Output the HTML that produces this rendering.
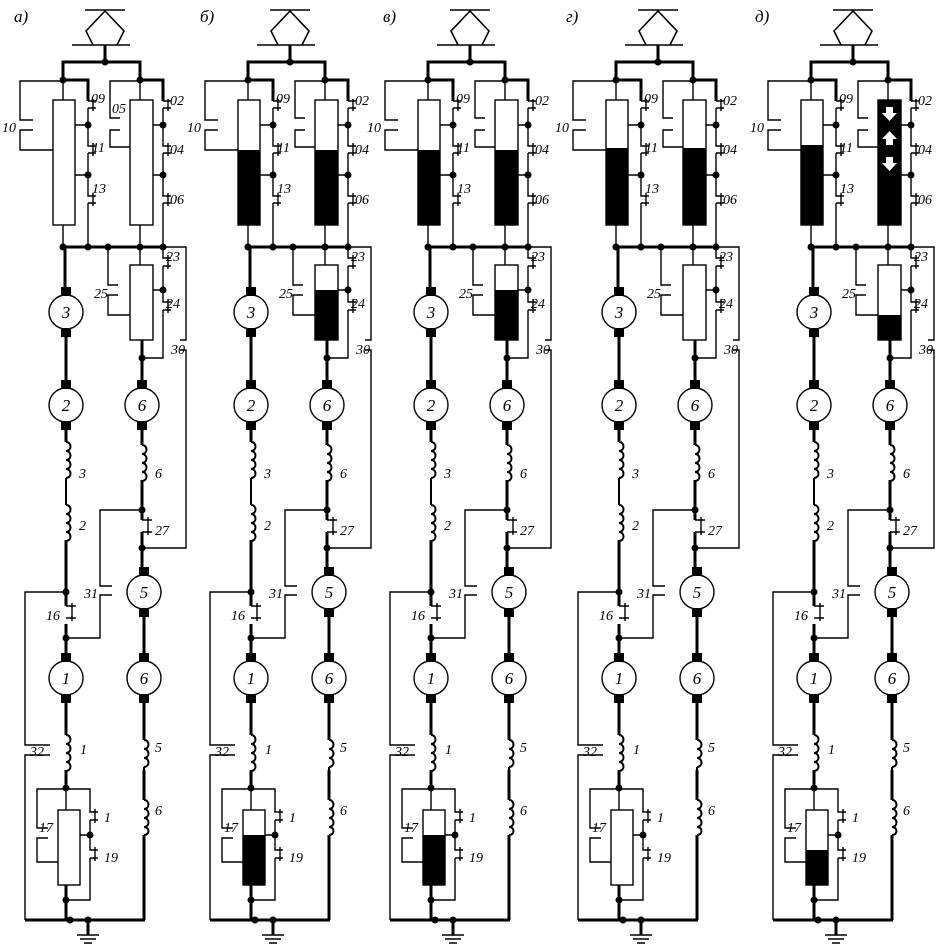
<!DOCTYPE html>
<html><head><meta charset="utf-8"><style>
html,body{margin:0;padding:0;background:#fff}
svg{display:block}
text{font-family:"Liberation Serif",serif;font-style:italic;font-size:14px;fill:#000}
.m{font-size:17px;text-anchor:middle}
</style></head><body>
<svg width="949" height="951" viewBox="0 0 949 951" xmlns="http://www.w3.org/2000/svg">
<defs>
<g id="p" fill="none" stroke="#000">
 <g stroke-width="1.6">
  <path d="M85,10H125M105,11L86,31L93,45H117L124,31Z M72,45H130"/>
 </g>
 <g stroke-width="3">
  <path d="M105,45V62 M63,80V62H140V80 M63,80H88V101 M140,80H163V101"/>
  <path d="M63,247H165 M65,247V295 M66,329V388 M66,422V442 M66,540V606 M66,624V660 M66,696V735 M66,770V788"/>
  <path d="M142,340V388 M142,422V445 M142,480V520 M142,532V575 M144,610V660 M144,696V740 M144,770V800 M144,835V920"/>
  <path d="M25,920H145 M66,885V920 M88,920V935"/>
 </g>
 <g stroke-width="2">
  <path d="M66,478V505 M144,767V800"/>
 </g>
 <g stroke-width="1.4">
  <rect x="53" y="100" width="22" height="125" fill="#fff"/>
  <rect x="130" y="100" width="23" height="125" fill="#fff"/>
  <rect x="130" y="265" width="23" height="75" fill="#fff"/>
  <rect x="58" y="810" width="22" height="75" fill="#fff"/>
  <path d="M63,80V100 M63,225V247 M140,80V100 M140,225V247 M140,247V265 M66,788V810"/>
  <path d="M88,101H96 M88,108H96 M88,108V146H96 M88,153H96 M88,153V196H96 M88,203H96 M88,203V247 M75,125H88 M75,175H88 M93,99V111 M93,143V156 M93,193V206"/>
  <path d="M163,101H171 M163,108H171 M163,108V146H171 M163,153H171 M163,153V196H171 M163,203H171 M163,203V247 M153,125H163 M153,175H163 M168,99V111 M168,143V156 M168,193V206"/>
  <path d="M63,81H20V120H33 M33,130H20V150H53"/>
  <path d="M140,81H110V118H120 M120,130H110V147H130"/>
  <path d="M163,247V258H171 M163,266H171 M163,266V302H171 M163,310H171 M163,310V358H142 M153,290H163 M168,255V269 M168,299V313"/>
  <path d="M108,247V285H118 M118,295H108V315H130"/>
  <path d="M165,247H186V340H180 M180,350H186V548H142"/>
  <path d="M142,520H152 M142,532H152 M148,517V535"/>
  <path d="M142,510H100V586H112 M112,595H100V638H66"/>
  <path d="M66,606H76 M66,618H76 M72,603V621"/>
  <path d="M66,592H25V745H50 M50,755H25V920"/>
  <path d="M66,789H90V812H98 M90,820H98 M90,820V850H98 M90,858H98 M90,858V900H66 M80,835H90 M95,809V823 M95,847V861"/>
  <path d="M66,789H37V828H48 M48,838H37V862H58"/>
  <path d="M77,935H99 M80,939H96 M84,943H92" stroke-width="1.6"/>
  <circle cx="66" cy="312" r="17" fill="#fff"/>
  <circle cx="66" cy="405" r="17" fill="#fff"/>
  <circle cx="66" cy="678" r="17" fill="#fff"/>
  <circle cx="142" cy="405" r="17" fill="#fff"/>
  <circle cx="144" cy="592" r="17" fill="#fff"/>
  <circle cx="144" cy="678" r="17" fill="#fff"/>
  <path d="M66,442c6,0 6,9 0,9c6,0 6,9 0,9c6,0 6,9 0,9c6,0 6,9 0,9 M66,505c6,0 6,9 0,9c6,0 6,9 0,9c6,0 6,9 0,9c6,0 6,9 0,9 M66,735c6,0 6,9 0,9c6,0 6,9 0,9c6,0 6,9 0,9c6,0 6,9 0,9 M142,445c6,0 6,9 0,9c6,0 6,9 0,9c6,0 6,9 0,9c6,0 6,9 0,9 M144,740c6,0 6,9 0,9c6,0 6,9 0,9c6,0 6,9 0,9 M144,800c6,0 6,9 0,9c6,0 6,9 0,9c6,0 6,9 0,9c6,0 6,8 0,8" stroke-width="2"/>
 </g>
 <g fill="#000" stroke="none">
  <rect x="61" y="287" width="10" height="9"/><rect x="61" y="328" width="10" height="9"/>
  <rect x="61" y="380" width="10" height="9"/><rect x="61" y="421" width="10" height="9"/>
  <rect x="61" y="653" width="10" height="9"/><rect x="61" y="694" width="10" height="9"/>
  <rect x="137" y="380" width="10" height="9"/><rect x="137" y="421" width="10" height="9"/>
  <rect x="139" y="567" width="10" height="9"/><rect x="139" y="608" width="10" height="9"/>
  <rect x="139" y="653" width="10" height="9"/><rect x="139" y="694" width="10" height="9"/>
  <circle cx="105" cy="62" r="3.5"/><circle cx="63" cy="80" r="3.5"/><circle cx="140" cy="80" r="3.5"/>
  <circle cx="88" cy="125" r="3.5"/><circle cx="88" cy="175" r="3.5"/><circle cx="163" cy="125" r="3.5"/><circle cx="163" cy="175" r="3.5"/>
  <circle cx="63" cy="247" r="3.5"/><circle cx="88" cy="247" r="3.5"/><circle cx="108" cy="247" r="3.5"/><circle cx="140" cy="247" r="3.5"/><circle cx="163" cy="247" r="3.5"/>
  <circle cx="163" cy="290" r="3.5"/><circle cx="142" cy="358" r="3.5"/><circle cx="142" cy="510" r="3.5"/><circle cx="142" cy="548" r="3.5"/>
  <circle cx="66" cy="592" r="3.5"/><circle cx="66" cy="638" r="3.5"/><circle cx="66" cy="788" r="3.5"/><circle cx="90" cy="835" r="3.5"/>
  <circle cx="66" cy="900" r="3.5"/><circle cx="70" cy="920" r="3.5"/><circle cx="88" cy="920" r="3.5"/>
 </g>
</g>
</defs>

<use href="#p" x="0"/>
<use href="#p" x="185"/>
<use href="#p" x="365"/>
<use href="#p" x="553"/>
<use href="#p" x="748"/>

<g fill="#000">
 <rect x="238" y="150" width="22" height="75"/><rect x="315" y="150" width="23" height="75"/><rect x="315" y="290" width="23" height="50"/><rect x="243" y="835" width="22" height="50"/>
 <rect x="418" y="150" width="22" height="75"/><rect x="495" y="150" width="23" height="75"/><rect x="495" y="290" width="23" height="50"/><rect x="423" y="835" width="22" height="50"/>
 <rect x="606" y="148" width="22" height="77"/><rect x="683" y="148" width="23" height="77"/>
 <rect x="801" y="145" width="22" height="80"/><rect x="878" y="100" width="23" height="125"/><rect x="878" y="315" width="23" height="25"/><rect x="806" y="850" width="22" height="35"/>
</g>
<g fill="#fff">
 <path d="M886,107h7v6h4l-7.5,8l-7.5,-8h4z"/>
 <path d="M886,145h7v-6h4l-7.5,-8l-7.5,8h4z"/>
 <path d="M886,157h7v6h4l-7.5,8l-7.5,-8h4z"/>
</g>

<text x="14" y="22" style="font-size:17px">а)</text>
<text x="200" y="22" style="font-size:17px">б)</text>
<text x="383" y="22" style="font-size:17px">в)</text>
<text x="566" y="22" style="font-size:17px">г)</text>
<text x="755" y="22" style="font-size:17px">д)</text>

<g>
<text x="91" y="103">09</text><text x="92" y="152">11</text><text x="92" y="193">13</text><text x="2" y="132">10</text><text x="112" y="113">05</text>
<text x="170" y="105">02</text><text x="170" y="154">04</text><text x="170" y="204">06</text><text x="166" y="261">23</text><text x="166" y="308">24</text><text x="94" y="298">25</text><text x="171" y="354">30</text>
<text x="79" y="478">3</text><text x="155" y="478">6</text><text x="79" y="530">2</text><text x="155" y="535">27</text><text x="84" y="598">31</text><text x="46" y="620">16</text><text x="30" y="756">32</text><text x="80" y="754">1</text><text x="155" y="752">5</text><text x="155" y="815">6</text><text x="104" y="822">1</text><text x="104" y="862">19</text><text x="39" y="832">17</text>
<text class="m" x="66" y="318">3</text><text class="m" x="66" y="411">2</text><text class="m" x="66" y="684">1</text><text class="m" x="142" y="411">6</text><text class="m" x="144" y="598">5</text><text class="m" x="144" y="684">6</text>
</g>
<g transform="translate(185,0)">
<text x="91" y="103">09</text><text x="92" y="152">11</text><text x="92" y="193">13</text><text x="2" y="132">10</text>
<text x="170" y="105">02</text><text x="170" y="154">04</text><text x="170" y="204">06</text><text x="166" y="261">23</text><text x="166" y="308">24</text><text x="94" y="298">25</text><text x="171" y="354">30</text>
<text x="79" y="478">3</text><text x="155" y="478">6</text><text x="79" y="530">2</text><text x="155" y="535">27</text><text x="84" y="598">31</text><text x="46" y="620">16</text><text x="30" y="756">32</text><text x="80" y="754">1</text><text x="155" y="752">5</text><text x="155" y="815">6</text><text x="104" y="822">1</text><text x="104" y="862">19</text><text x="39" y="832">17</text>
<text class="m" x="66" y="318">3</text><text class="m" x="66" y="411">2</text><text class="m" x="66" y="684">1</text><text class="m" x="142" y="411">6</text><text class="m" x="144" y="598">5</text><text class="m" x="144" y="684">6</text>
</g>
<g transform="translate(365,0)">
<text x="91" y="103">09</text><text x="92" y="152">11</text><text x="92" y="193">13</text><text x="2" y="132">10</text>
<text x="170" y="105">02</text><text x="170" y="154">04</text><text x="170" y="204">06</text><text x="166" y="261">23</text><text x="166" y="308">24</text><text x="94" y="298">25</text><text x="171" y="354">30</text>
<text x="79" y="478">3</text><text x="155" y="478">6</text><text x="79" y="530">2</text><text x="155" y="535">27</text><text x="84" y="598">31</text><text x="46" y="620">16</text><text x="30" y="756">32</text><text x="80" y="754">1</text><text x="155" y="752">5</text><text x="155" y="815">6</text><text x="104" y="822">1</text><text x="104" y="862">19</text><text x="39" y="832">17</text>
<text class="m" x="66" y="318">3</text><text class="m" x="66" y="411">2</text><text class="m" x="66" y="684">1</text><text class="m" x="142" y="411">6</text><text class="m" x="144" y="598">5</text><text class="m" x="144" y="684">6</text>
</g>
<g transform="translate(553,0)">
<text x="91" y="103">09</text><text x="92" y="152">11</text><text x="92" y="193">13</text><text x="2" y="132">10</text>
<text x="170" y="105">02</text><text x="170" y="154">04</text><text x="170" y="204">06</text><text x="166" y="261">23</text><text x="166" y="308">24</text><text x="94" y="298">25</text><text x="171" y="354">30</text>
<text x="79" y="478">3</text><text x="155" y="478">6</text><text x="79" y="530">2</text><text x="155" y="535">27</text><text x="84" y="598">31</text><text x="46" y="620">16</text><text x="30" y="756">32</text><text x="80" y="754">1</text><text x="155" y="752">5</text><text x="155" y="815">6</text><text x="104" y="822">1</text><text x="104" y="862">19</text><text x="39" y="832">17</text>
<text class="m" x="66" y="318">3</text><text class="m" x="66" y="411">2</text><text class="m" x="66" y="684">1</text><text class="m" x="142" y="411">6</text><text class="m" x="144" y="598">5</text><text class="m" x="144" y="684">6</text>
</g>
<g transform="translate(748,0)">
<text x="91" y="103">09</text><text x="92" y="152">11</text><text x="92" y="193">13</text><text x="2" y="132">10</text>
<text x="170" y="105">02</text><text x="170" y="154">04</text><text x="170" y="204">06</text><text x="166" y="261">23</text><text x="166" y="308">24</text><text x="94" y="298">25</text><text x="171" y="354">30</text>
<text x="79" y="478">3</text><text x="155" y="478">6</text><text x="79" y="530">2</text><text x="155" y="535">27</text><text x="84" y="598">31</text><text x="46" y="620">16</text><text x="30" y="756">32</text><text x="80" y="754">1</text><text x="155" y="752">5</text><text x="155" y="815">6</text><text x="104" y="822">1</text><text x="104" y="862">19</text><text x="39" y="832">17</text>
<text class="m" x="66" y="318">3</text><text class="m" x="66" y="411">2</text><text class="m" x="66" y="684">1</text><text class="m" x="142" y="411">6</text><text class="m" x="144" y="598">5</text><text class="m" x="144" y="684">6</text>
</g>
</svg>
</body></html>
